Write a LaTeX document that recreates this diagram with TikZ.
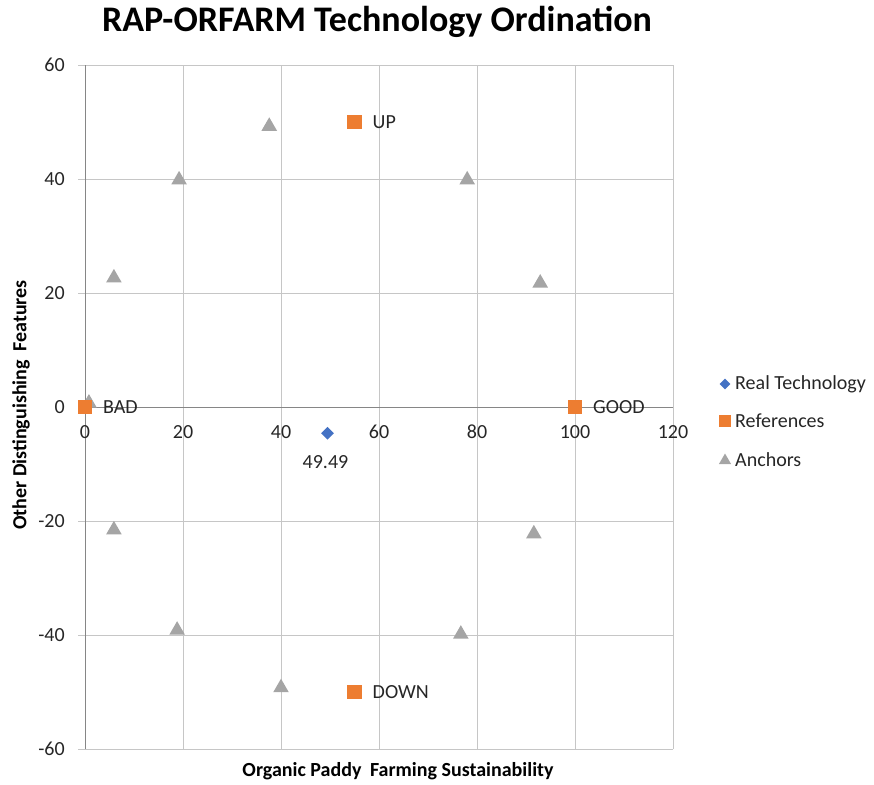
\documentclass[tikz,border=0pt]{standalone}
\usepackage{fontspec}
\setmainfont{Carlito}
\usetikzlibrary{shapes.geometric}
\definecolor{techblue}{HTML}{4472C4}
\definecolor{reforange}{HTML}{ED7D31}
\definecolor{anchorgray}{HTML}{A5A5A5}
\definecolor{gridgray}{HTML}{C6C6C6}
\definecolor{axisgray}{HTML}{868686}
\definecolor{labeltext}{HTML}{262626}
\begin{document}
\begin{tikzpicture}[x=1pt,y=1pt,
  gridline/.style={draw=gridgray, line width=0.9pt},
  axisline/.style={draw=axisgray, line width=1pt},
  ticklabel/.style={font=\fontsize{20}{22}\selectfont, text=labeltext, inner sep=0pt},
  axistitle/.style={font=\bfseries\fontsize{20}{22}\selectfont, text=black, inner sep=0pt},
  datalabel/.style={font=\fontsize{20}{22}\selectfont, text=labeltext, inner sep=0pt, anchor=west, xshift=18pt},
  techmark/.style={diamond, fill=techblue, draw=none, minimum width=13pt, minimum height=13pt, inner sep=0pt},
  refmark/.style={rectangle, fill=reforange, draw=none, minimum size=14.5pt, inner sep=0pt},
  anchormark/.style={regular polygon, regular polygon sides=3, fill=anchorgray, draw=none, minimum size=18pt, inner sep=0pt, yshift=-2pt},
  legmark/.style={draw=none, inner sep=0pt},
  legtext/.style={font=\fontsize{20}{22}\selectfont, text=labeltext, inner sep=0pt, anchor=west}
]
\useasboundingbox (0,-784) rectangle (874,0);
\node[font=\bfseries\fontsize{36}{40}\selectfont, inner sep=0pt] (title) at (377,-22) {RAP-ORFARM Technology Ordination};

\begin{scope}[shift={(85pt,-407pt)}, x=4.9pt, y=5.7pt]
  % grid
  \foreach \gx in {20,40,...,120} \draw[gridline] (\gx,-60) -- (\gx,60);
  \foreach \gy in {-60,-40,...,60} \draw[gridline] (-1.4,\gy) -- (120,\gy);
  % axes
  \draw[axisline] (0,-60) -- (0,60);
  \draw[axisline] (-1.4,0) -- (120,0);
  % tick labels
  \foreach \gy in {-60,-40,...,60} \node[ticklabel, anchor=east] (yl\gy) at (-4.1,\gy) {\gy};
  \foreach \gx in {0,20,...,120} \node[ticklabel] (xl\gx) at (\gx,-4.4) {\gx};

  % anchors
  \foreach \ax/\ay [count=\i] in {0.8/1.05, 5.9/23, 19.2/40.2, 37.6/49.6, 78/40.2, 92.9/22.1,
      5.9/-21.2, 18.8/-38.8, 40/-48.9, 76.7/-39.5, 91.6/-21.9}
    \node[anchormark] (anc\i) at (\ax,\ay) {};

  % references
  \node[refmark] (bad) at (0,0) {};
  \node[refmark] (good) at (100,0) {};
  \node[refmark] (up) at (55,50) {};
  \node[refmark] (down) at (55,-50) {};
  \node[datalabel] (badl) at (bad.center) {BAD};
  \node[datalabel] (goodl) at (good.center) {GOOD};
  \node[datalabel] (upl) at (up.center) {UP};
  \node[datalabel] (downl) at (down.center) {DOWN};

  % real technology
  \node[techmark] (tech) at (49.49,-4.6) {};
  \node[ticklabel, yshift=-29pt, xshift=-2pt] (techl) at (tech.center) {49.49};
\end{scope}

% axis titles
\node[axistitle] (xtitle) at (398,-771) {Organic Paddy\hspace{0.2em} Farming Sustainability};
\node[axistitle, rotate=90] (ytitle) at (21,-405) {Other Distinguishing\hspace{0.2em} Features};

% legend
\node[legmark, diamond, fill=techblue, minimum width=11pt, minimum height=11pt] (lg1) at (725,-384) {};
\node[legtext] (lt1) at (735,-384) {Real Technology};
\node[legmark, rectangle, fill=reforange, minimum size=12pt] (lg2) at (725,-421) {};
\node[legtext] (lt2) at (735,-421) {References};
\node[legmark, regular polygon, regular polygon sides=3, fill=anchorgray, minimum size=14pt, yshift=-1.5pt] (lg3) at (725,-459) {};
\node[legtext] (lt3) at (735,-460) {Anchors};
\end{tikzpicture}
\end{document}
